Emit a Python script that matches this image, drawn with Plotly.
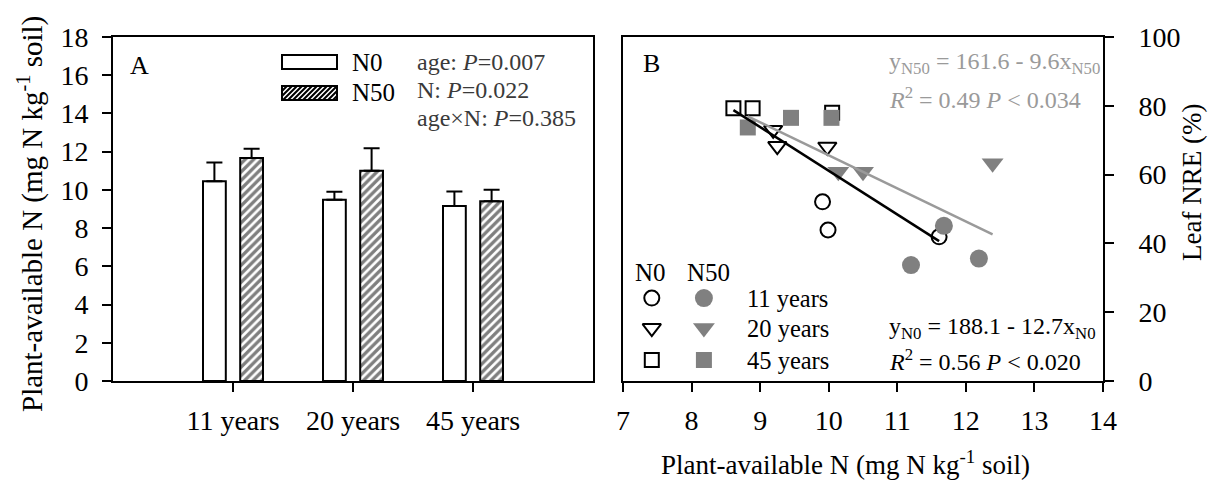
import plotly.graph_objects as go

# ---------------- data ----------------
years = ["11 years", "20 years", "45 years"]
n0_mean = [10.45, 9.48, 9.16]
n0_se = [0.98, 0.42, 0.75]
n50_mean = [11.67, 11.0, 9.41]
n50_se = [0.48, 1.18, 0.60]

# Panel B: plant-available N (x) vs leaf NRE (y)
n0_x_11 = [9.91, 9.99, 11.61]
n0_y_11 = [52.1, 43.9, 41.9]
n50_x_11 = [11.68, 11.20, 12.19]
n50_y_11 = [45.1, 33.7, 35.6]
n0_x_20 = [9.19, 9.25, 9.98]
n0_y_20 = [73.0, 68.3, 68.1]
n50_x_20 = [10.14, 10.50, 12.39]
n50_y_20 = [60.8, 60.8, 63.3]
n0_x_45 = [8.61, 8.89, 10.05]
n0_y_45 = [79.3, 79.3, 78.0]
n50_x_45 = [8.82, 9.45, 10.04]
n50_y_45 = [73.7, 76.5, 76.5]

# regression coefficients (intercept, slope)
n0_fit = (188.1, -12.7)
n50_fit = (161.6, -9.6)

# ---------------- layout helpers ----------------
W, H = 1211, 481
L, R, T, B = 113, 1103, 37, 381
FONT = "Liberation Serif"
GRAY = "#808080"
LGRAY = "#9a9a9a"


def px(x):
    return (x - L) / (R - L)


def py(y):
    return (B - y) / (B - T)


fig = go.Figure()

# ---------------- Panel A: bars ----------------
xpos = [1, 2, 3]
fig.add_trace(go.Bar(
    x=xpos, y=n0_mean, name="N0", xaxis="x", yaxis="y",
    marker=dict(color="white", line=dict(color="black", width=2)),
    error_y=dict(type="data", array=n0_se, arrayminus=[0] * 3, symmetric=False,
                 color="black", thickness=2, width=8),
    showlegend=False,
))
fig.add_trace(go.Bar(
    x=xpos, y=n50_mean, name="N50", xaxis="x", yaxis="y",
    marker=dict(color="white", line=dict(color="black", width=2),
                pattern=dict(shape="/", size=6, solidity=0.55,
                             fgcolor="black", bgcolor="white")),
    error_y=dict(type="data", array=n50_se, arrayminus=[0] * 3, symmetric=False,
                 color="black", thickness=2, width=8),
    showlegend=False,
))

# ---------------- Panel B: scatter ----------------
def mk(xs, ys, symbol, size, filled):
    if filled:
        m = dict(symbol=symbol, size=size, color=GRAY, line=dict(width=0))
    else:
        m = dict(symbol=symbol + "-open", size=size, color="black", line=dict(width=2, color="black"))
    return go.Scatter(x=xs, y=ys, mode="markers", marker=m, xaxis="x2", yaxis="y2",
                      showlegend=False, cliponaxis=False)


fig.add_trace(mk(n0_x_11, n0_y_11, "circle", 15, False))
fig.add_trace(mk(n0_x_20, n0_y_20, "triangle-down", 16, False))
fig.add_trace(mk(n0_x_45, n0_y_45, "square", 14, False))
fig.add_trace(mk(n50_x_11, n50_y_11, "circle", 18, True))
fig.add_trace(mk(n50_x_20, n50_y_20, "triangle-down", 19, True))
fig.add_trace(mk(n50_x_45, n50_y_45, "square", 16, True))

# regression lines
n0_all = n0_x_11 + n0_x_20 + n0_x_45
n50_all = n50_x_11 + n50_x_20 + n50_x_45
for xs, (a, b), col in [(n50_all, n50_fit, LGRAY), (n0_all, n0_fit, "black")]:
    x0, x1 = min(xs), max(xs)
    fig.add_trace(go.Scatter(x=[x0, x1], y=[a + b * x0, a + b * x1], mode="lines",
                             line=dict(color=col, width=2.5), xaxis="x2", yaxis="y2",
                             showlegend=False))

# legend keys for panel B (positions in data units of panel B)
leg_b = dict(x_open=7.42, x_fill=8.18, rows=[24.1, 15.4, 6.1])
for sym, row, so, sf in [("circle", 0, 15, 18), ("triangle-down", 1, 16, 19), ("square", 2, 14, 16)]:
    fig.add_trace(mk([leg_b["x_open"]], [leg_b["rows"][row]], sym, so, False))
    fig.add_trace(mk([leg_b["x_fill"]], [leg_b["rows"][row]], sym, sf, True))

# ---------------- axes ----------------
axis_common = dict(showline=True, linewidth=2, linecolor="black", mirror=True,
                   ticks="outside", ticklen=9, tickwidth=2, tickcolor="black",
                   showgrid=False, zeroline=False,
                   tickfont=dict(family=FONT, size=28, color="black"))

fig.update_layout(
    width=W, height=H,
    margin=dict(l=L, r=W - R, t=T, b=H - B, pad=0),
    paper_bgcolor="white", plot_bgcolor="white",
    barmode="group", bargap=0.38, bargroupgap=0.387,
    xaxis=dict(domain=[0, px(593)], range=[0, 4], tickvals=xpos, ticktext=years,
               anchor="y", ticklabelstandoff=4, **axis_common),
    yaxis=dict(domain=[0, 1], range=[0, 18], dtick=2, anchor="x",
               ticklabelstandoff=8, **axis_common),
    xaxis2=dict(domain=[px(623), 1], range=[7, 14], dtick=1, anchor="y2",
                ticklabelstandoff=4, **axis_common),
    yaxis2=dict(domain=[0, 1], range=[0, 100], dtick=20, anchor="x2", side="right",
                ticklabelstandoff=19, **axis_common),
    showlegend=False,
)

# ---------------- annotations ----------------
ann = []


def add_text(text, x, y, size=25, color="black", xanchor="left", angle=0):
    ann.append(dict(text=text, x=px(x), y=py(y), xref="paper", yref="paper",
                    xanchor=xanchor, yanchor="middle", showarrow=False, textangle=angle,
                    font=dict(family=FONT, size=size, color=color)))


title = "Plant-available N (mg N kg<sup>-1</sup> soil)"
add_text(title, 30, 214, size=29, xanchor="center", angle=-90)
add_text(title, 845, 463, size=27, xanchor="center")
add_text("Leaf NRE (%)", 1192, 183, size=27, xanchor="center", angle=-90)

add_text("A", 128, 65, size=26)
add_text("N0", 350, 62, size=25)
add_text("N50", 350, 93, size=25)
stat_col = "#3a3a3a"
add_text("age: <i>P</i>=0.007", 415, 62, size=24, color=stat_col)
add_text("N: <i>P</i>=0.022", 415, 90, size=24, color=stat_col)
add_text("age×N: <i>P</i>=0.385", 415, 118, size=24, color=stat_col)

add_text("B", 641, 63, size=26)
add_text("y<sub>N50</sub> = 161.6 - 9.6x<sub>N50</sub>", 887, 63, size=24, color=LGRAY)
add_text("<i>R</i><sup>2</sup> = 0.49 <i>P</i> < 0.034", 887, 98, size=24, color=LGRAY)
add_text("y<sub>N0</sub> = 188.1 - 12.7x<sub>N0</sub>", 887, 328, size=24)
add_text("<i>R</i><sup>2</sup> = 0.56 <i>P</i> < 0.020", 887, 360, size=24)
add_text("N0", 650, 272, size=25, xanchor="center")
add_text("N50", 708, 272, size=25, xanchor="center")
add_text("11 years", 745, 298, size=24.5)
add_text("20 years", 745, 328, size=24.5)
add_text("45 years", 745, 360, size=24.5)
fig.update_layout(annotations=ann)

# ---------------- legend boxes for panel A ----------------
shapes = []
for (x0, y0, x1, y1) in [(282, 55, 337, 69), (282, 86, 337, 100)]:
    shapes.append(dict(type="rect", xref="paper", yref="paper",
                       x0=px(x0), x1=px(x1), y0=py(y1), y1=py(y0),
                       line=dict(color="black", width=2), fillcolor="white"))
# hatch for N50 key
hx0, hy0, hx1, hy1 = 282, 86, 337, 100
h = hy1 - hy0
path = ""
s = hx0 - h
while s < hx1:
    t0 = max(0.0, (hx0 - s) / h)
    t1 = min(1.0, (hx1 - s) / h)
    if t1 > t0:
        xa, ya = s + t0 * h, hy1 - t0 * h
        xb, yb = s + t1 * h, hy1 - t1 * h
        path += f"M{px(xa):.5f},{py(ya):.5f} L{px(xb):.5f},{py(yb):.5f} "
    s += 5
shapes.append(dict(type="path", xref="paper", yref="paper", path=path,
                   line=dict(color="black", width=2)))
fig.update_layout(shapes=shapes)

fig.write_html("out.html", config={"displayModeBar": False},
               post_script="document.body.style.margin='0';document.body.style.overflow='hidden';")
